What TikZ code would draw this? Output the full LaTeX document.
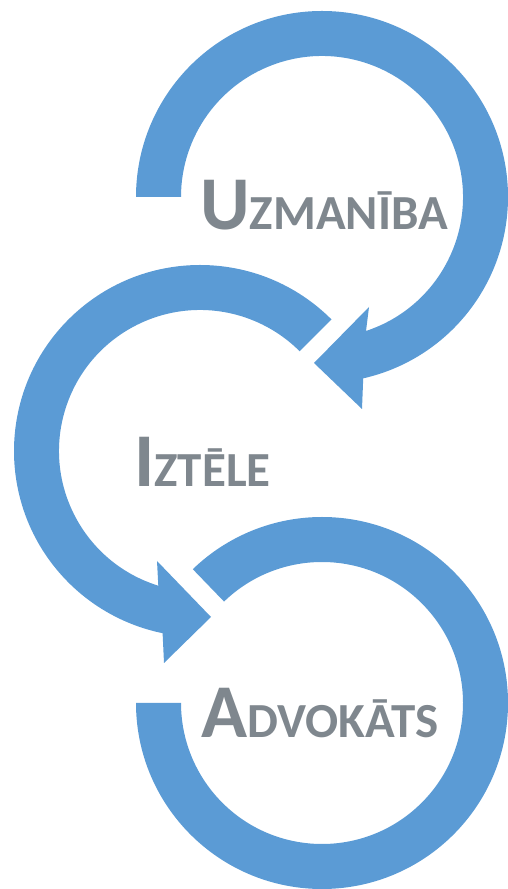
\documentclass[tikz,border=0pt]{standalone}
\usepackage{fontspec}
\setmainfont{Carlito}
\usetikzlibrary{calc, positioning}
\definecolor{loopblue}{RGB}{91,155,213}
\definecolor{wordgray}{RGB}{127,135,142}
\newcommand{\capword}[2]{{\fontsize{76}{76}\selectfont #1}{\fontsize{49}{49}\selectfont #2}}

\begin{document}
\begin{tikzpicture}[x=1pt,y=1pt,
        word/.style={anchor=base west,inner sep=0pt,text=wordgray,font=\bfseries}]
            \useasboundingbox (0,0) rectangle (508,889);

            \coordinate (C1) at (322,692);
            \coordinate (C2) at (200,438);
            \coordinate (C3) at (322,186);

            % top loop, head at lower right
            \fill[loopblue] ($(C1)+(180:186)$) arc[start angle=180,end angle=-77.2,radius=186]
                -- ($(C1)+(40,-212)$) -- ($(C1)+(-8,-166)$) -- ($(C1)+(47,-110)$)
                -- ($(C1)+(-71.8:141)$) arc[start angle=-71.8,end angle=180,radius=141] -- cycle;

            % middle loop, head at lower right
            \fill[loopblue] ($(C2)+(45:186)$) arc[start angle=45,end angle=258.4,radius=186]
                -- ($(C2)+(-36,-212)$) -- ($(C2)+(11,-166)$) -- ($(C2)+(-43,-110)$)
                -- ($(C2)+(252.8:141)$) arc[start angle=252.8,end angle=45,radius=141] -- cycle;

            % bottom loop, no head
            \fill[loopblue] ($(C3)+(180:186)$) arc[start angle=180,end angle=494,radius=186]
                -- ($(C3)+(134:141)$) arc[start angle=494,end angle=180,radius=141] -- cycle;

            \node[word] (uzmaniba) at (200,659) {\capword{U}{ZMANĪBA}};
            \node[word] (iztele) at (134,402) {\capword{I}{ZTĒLE}};
            \node[word] (advokats) at (201,151) {\capword{A}{DVOKĀTS}};

\end{tikzpicture}
\end{document}
